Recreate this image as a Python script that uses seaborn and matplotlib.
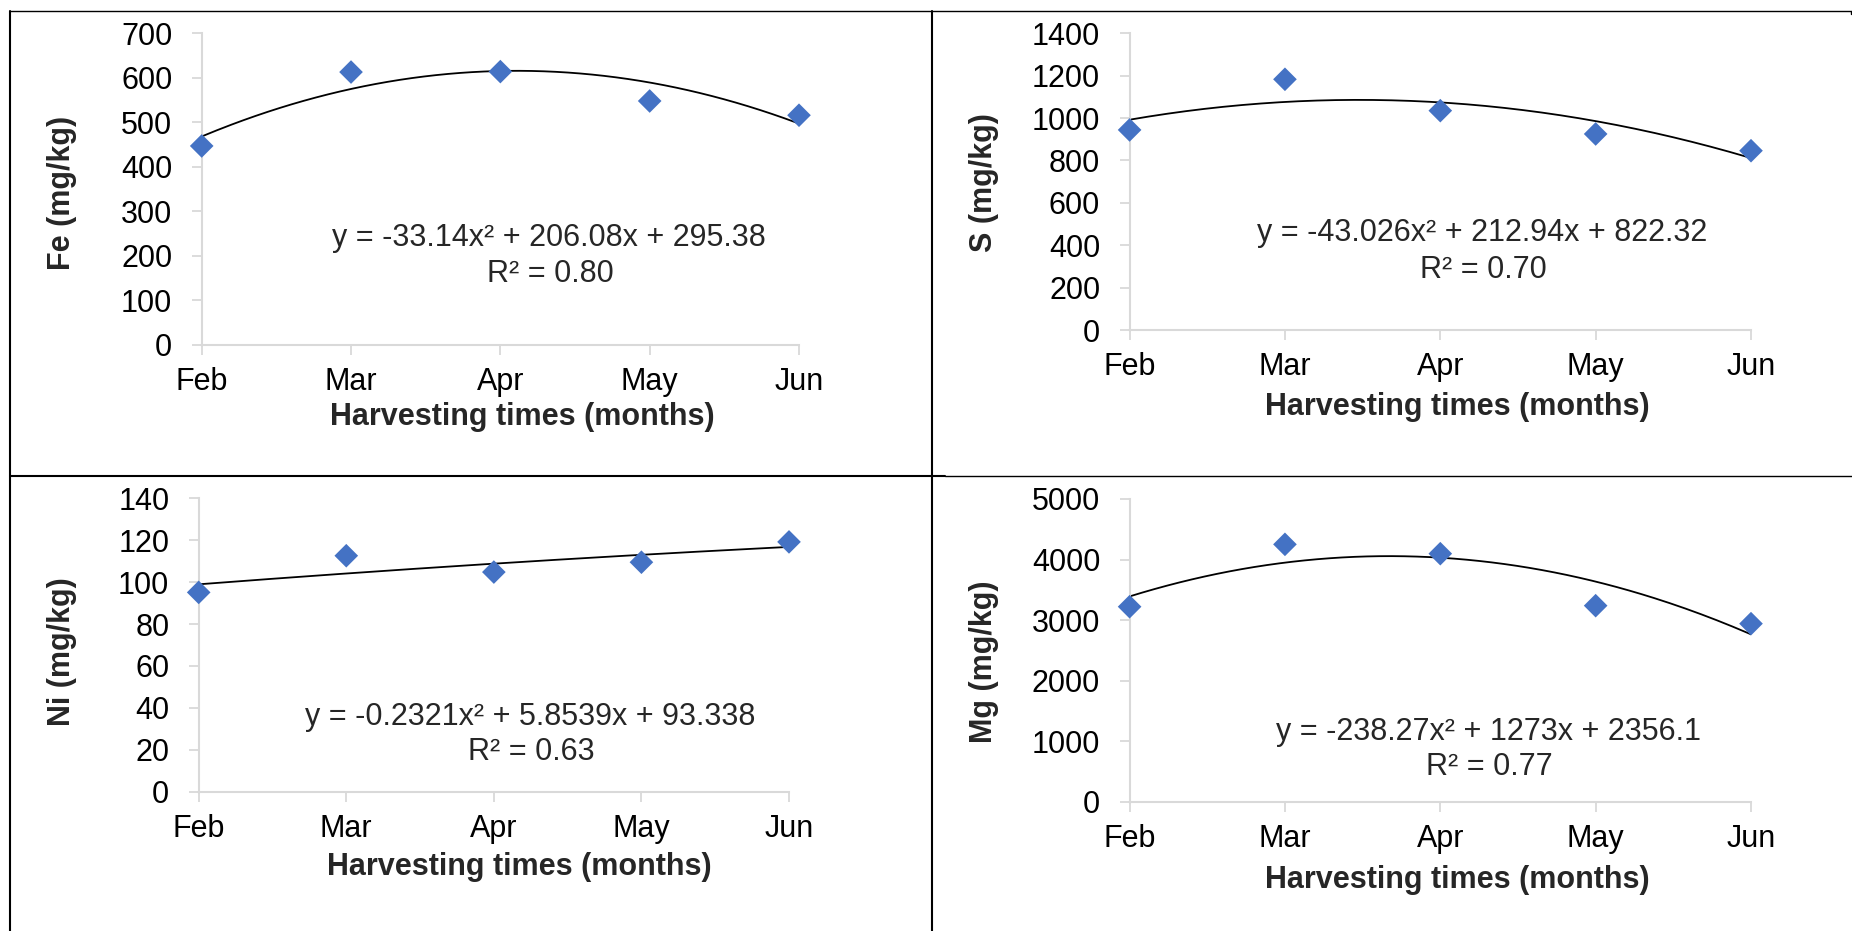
import matplotlib
matplotlib.use("Agg")
import matplotlib.pyplot as plt
from matplotlib.lines import Line2D
import numpy as np
import pandas as pd
import seaborn as sns

# values
months = ["Feb", "Mar", "Apr", "May", "Jun"]
fe_vals = [447, 613, 614, 548, 516]
s_vals = [944, 1183, 1035, 925, 846]
ni_vals = [95.1, 112.6, 104.8, 109.5, 119.2]
mg_vals = [3221, 4251, 4097, 3238, 2941]

# quadratic trendline coefficients (as printed in the panels)
fe_coef = [-33.14, 206.08, 295.38]
s_coef = [-43.026, 212.94, 822.32]
ni_coef = [-0.2321, 5.8539, 93.338]
mg_coef = [-238.27, 1273, 2356.1]

fe_r2 = "0.80"
s_r2 = "0.70"
ni_r2 = "0.63"
mg_r2 = "0.77"

sns.set_theme(style="white")
plt.rcParams["font.family"] = ["Liberation Sans", "DejaVu Sans"]

W, H = 1852, 931
BLUE = "#4472C4"
GRID = "#D9D9D9"
FS = 22

fig = plt.figure(figsize=(W / 100, H / 100), dpi=100)


def fx(px):
    return px / W


def fy(py):
    return 1 - py / H


def fmt_eq(coef):
    a, b, c = coef
    return f"y = {a:g}x\u00b2 + {b:g}x + {c:g}"


# (name, values, coef, r2, ymax, ystep, axes box in px [x0, x1, ytop, ybottom], label positions)
panels = [
    ("Fe", fe_vals, fe_coef, fe_r2, 700, 100, (201.7, 799, 33.3, 345),
     dict(eq=(549, 238), r2=(550, 274), xl=(522, 417), yl=(62, 193))),
    ("S", s_vals, s_coef, s_r2, 1400, 200, (1129.6, 1751, 33.3, 330),
     dict(eq=(1482, 233), r2=(1483, 270), xl=(1457, 407), yl=(984, 183))),
    ("Ni", ni_vals, ni_coef, ni_r2, 140, 20, (198.7, 789, 498.3, 791.7),
     dict(eq=(530, 717), r2=(531, 752), xl=(519, 867), yl=(62, 652))),
    ("Mg", mg_vals, mg_coef, mg_r2, 5000, 1000, (1129.6, 1751, 499, 801.7),
     dict(eq=(1488, 732), r2=(1489, 767), xl=(1457, 880), yl=(984, 662))),
]

for name, vals, coef, r2, ymax, ystep, box, pos in panels:
    x0, x1, yt, yb = box
    ax = fig.add_axes([fx(x0), fy(yb), (x1 - x0) / W, (yb - yt) / H])
    df = pd.DataFrame({"t": np.arange(1, len(months) + 1), "v": vals})
    xs = np.linspace(1, len(months), 200)
    sns.lineplot(x=xs, y=np.polyval(coef, xs), color="black", lw=1.3, ax=ax)
    sns.scatterplot(data=df, x="t", y="v", marker="D", s=145, color=BLUE,
                    edgecolor="none", ax=ax, zorder=3, clip_on=False)
    ax.set_xlim(1, len(months))
    ax.set_ylim(0, ymax)
    ax.set_yticks(np.arange(0, ymax + ystep, ystep))
    ax.set_xticks(df["t"], months)
    ax.set_xlabel("")
    ax.set_ylabel("")
    for side in ("top", "right"):
        ax.spines[side].set_visible(False)
    for side in ("left", "bottom"):
        ax.spines[side].set_color(GRID)
        ax.spines[side].set_linewidth(1.5)
    ax.tick_params(axis="both", color=GRID, length=7.2, width=1.3,
                   labelsize=FS, labelcolor="black", bottom=True, left=True)
    ax.tick_params(axis="x", pad=8.5)
    ax.tick_params(axis="y", pad=14)

    fig.text(fx(pos["eq"][0]), fy(pos["eq"][1]), fmt_eq(coef), ha="center", va="center", fontsize=FS)
    fig.text(fx(pos["r2"][0]), fy(pos["r2"][1]), f"R\u00b2 = {r2}", ha="center", va="center", fontsize=FS)
    fig.text(fx(pos["xl"][0]), fy(pos["xl"][1]), "Harvesting times (months)",
             ha="center", va="center", fontsize=FS, fontweight="bold")
    fig.text(fx(pos["yl"][0]), fy(pos["yl"][1]), f"{name} (mg/kg)", rotation=90,
             ha="center", va="center", fontsize=FS, fontweight="bold")

# table borders around the four panels
border = [
    ((10, 10), (10.7, H), 1.5),
    ((931.7, 931.7), (10.7, H), 1.5),
    ((10, 1851), (10.7, 10.7), 1.0),
    ((1851, 1851), (10.7, 14), 1.0),
    ((10, 945), (475.7, 475.7), 1.5),
    ((945, W), (475.7, 475.7), 1.0),
]
for xs_, ys_, lw in border:
    fig.add_artist(Line2D([fx(v) for v in xs_], [fy(v) for v in ys_],
                          color="black", lw=lw, transform=fig.transFigure))

fig.savefig("out.png", dpi=100)
plt.close(fig)
